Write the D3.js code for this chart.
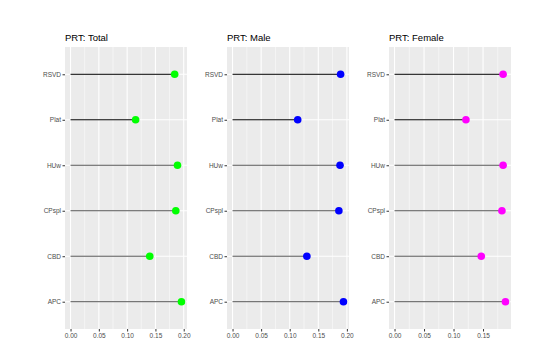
<!DOCTYPE html>
<html>
<head>
<meta charset="utf-8">
<script src="https://cdn.jsdelivr.net/npm/d3@7"></script>
<style>
  body { margin: 0; background: #fff; }
  text { font-family: "Liberation Sans", Arial, sans-serif; }
</style>
</head>
<body>
<script>
// categories top to bottom
var methods = ["RSVD", "Plat", "HUw", "CPspl", "CBD", "APC"];

var totalVals  = [0.184, 0.115, 0.189, 0.186, 0.140, 0.196];
var maleVals   = [0.189, 0.114, 0.188, 0.186, 0.130, 0.194];
var femaleVals = [0.184, 0.121, 0.184, 0.182, 0.147, 0.188];

var panelTitles = ["PRT: Total", "PRT: Male", "PRT: Female"];
var panelColors = ["#00ff00", "#0000ff", "#ff00ff"];
var panelData = [totalVals, maleVals, femaleVals];

var svg = d3.select("body").append("svg")
  .attr("width", 555)
  .attr("height", 358);

var plotTop = 47, plotBottom = 329, pw = 122;
var lefts = [65, 227, 389];

var y = d3.scalePoint()
  .domain(methods)
  .range([plotTop, plotBottom])
  .padding(0.6);

panelData.forEach(function(vals, i) {
  var left = lefts[i];
  var mx = d3.max(vals);
  var x = d3.scaleLinear()
    .domain([-0.05 * mx, 1.05 * mx])
    .range([left, left + pw]);

  var g = svg.append("g");

  g.append("rect")
    .attr("x", left).attr("y", plotTop)
    .attr("width", pw).attr("height", plotBottom - plotTop)
    .attr("fill", "#ebebeb");

  var major = x.ticks(5).filter(function(t) { return t >= x.domain()[0] && t <= x.domain()[1]; });
  var minor = [];
  for (var k = 0; k < major.length; k++) {
    var m = major[k] + 0.025;
    if (m <= x.domain()[1]) minor.push(m);
  }

  g.selectAll(".minor").data(minor).enter().append("line")
    .attr("x1", function(d) { return x(d); }).attr("x2", function(d) { return x(d); })
    .attr("y1", plotTop).attr("y2", plotBottom)
    .attr("stroke", "#fff").attr("stroke-width", 0.5);

  g.selectAll(".major").data(major).enter().append("line")
    .attr("x1", function(d) { return x(d); }).attr("x2", function(d) { return x(d); })
    .attr("y1", plotTop).attr("y2", plotBottom)
    .attr("stroke", "#fff").attr("stroke-width", 1.1);

  g.selectAll(".hgrid").data(methods).enter().append("line")
    .attr("x1", left).attr("x2", left + pw)
    .attr("y1", function(d) { return y(d); }).attr("y2", function(d) { return y(d); })
    .attr("stroke", "#fff").attr("stroke-width", 1.1);

  // lollipop sticks
  g.selectAll(".seg").data(vals).enter().append("line")
    .attr("x1", x(0))
    .attr("x2", function(d) { return x(d); })
    .attr("y1", function(d, j) { return y(methods[j]); })
    .attr("y2", function(d, j) { return y(methods[j]); })
    .attr("stroke", function(d, j) { return j < 2 ? "#000" : "#555"; })
    .attr("stroke-width", 1);

  g.selectAll(".pt").data(vals).enter().append("circle")
    .attr("cx", function(d) { return x(d); })
    .attr("cy", function(d, j) { return y(methods[j]); })
    .attr("r", 3.8)
    .attr("fill", panelColors[i]);

  // x axis
  var xa = g.append("g")
    .attr("transform", "translate(0," + plotBottom + ")")
    .call(d3.axisBottom(x).tickValues(major).tickSize(2.5).tickPadding(1.5).tickFormat(d3.format(".2f")));
  xa.select(".domain").remove();
  xa.selectAll("line").attr("stroke", "#333");
  xa.selectAll("text").attr("fill", "#4d4d4d").style("font-size", "6.5px");

  // y axis
  var ya = g.append("g")
    .attr("transform", "translate(" + left + ",0)")
    .call(d3.axisLeft(y).tickSize(2.5).tickPadding(1.5));
  ya.select(".domain").remove();
  ya.selectAll("line").attr("stroke", "#333");
  ya.selectAll("text").attr("fill", "#4d4d4d").style("font-size", "6.5px");

  g.append("text")
    .attr("x", left).attr("y", 41)
    .style("font-size", "9.5px")
    .attr("fill", "#000")
    .text(panelTitles[i]);
});
</script>
</body>
</html>
